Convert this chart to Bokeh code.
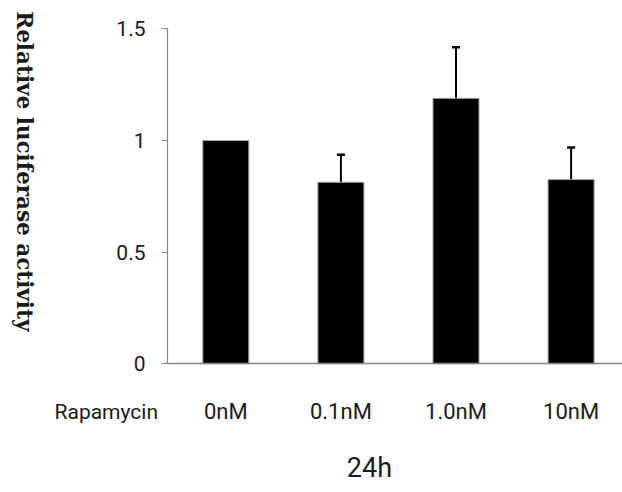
import math
from bokeh.plotting import figure
from bokeh.models import (ColumnDataSource, Whisker, TeeHead, FixedTicker,
                          CustomJSTickFormatter, Label, Range1d)
from bokeh.embed import file_html
from bokeh.resources import INLINE

categories = ["0nM", "0.1nM", "1.0nM", "10nM"]
values = [1.0, 0.813, 1.189, 0.825]
errors = [0.0, 0.123, 0.229, 0.144]
y_ticks = [0, 0.5, 1, 1.5]
y_tick_labels = ["0", "0.5", "1", "1.5"]
x_title = "24h"
row_title = "Rapamycin"
y_title = "Relative luciferase  activity"

xs = list(range(len(categories)))

# axis extents (data units); the frame covers the whole canvas so that
# the outside texts can be placed as annotations
x_lo, x_hi = -0.5065, 3.4466
y_lo, y_hi = 0, 1.5

p = figure(width=622, height=492, output_backend="svg", toolbar_location=None,
           x_range=Range1d(-1.9575, 3.4466), y_range=Range1d(-0.5764, 1.627),
           min_border_left=0, min_border_right=0, min_border_top=0,
           min_border_bottom=0)
p.grid.visible = False
p.outline_line_color = None
p.background_fill_color = "white"
p.border_fill_color = "white"

src = ColumnDataSource(dict(x=xs, top=values))
p.vbar(x="x", top="top", bottom=0, width=0.4, source=src, fill_color="black",
       line_color="#a6a6a6", line_width=1)

ex = [x for x, e in zip(xs, errors) if e > 0]
ev = [v for v, e in zip(values, errors) if e > 0]
eu = [v + e for v, e in zip(values, errors) if e > 0]
esrc = ColumnDataSource(dict(x=ex, lower=ev, upper=eu))
w = Whisker(source=esrc, base="x", lower="lower", upper="upper",
            line_color="black", line_width=2,
            upper_head=TeeHead(size=8, line_width=2.5, line_color="black"),
            lower_head=None)
p.add_layout(w)

font = "Roboto"

ya = p.yaxis[0]
ya.fixed_location = x_lo
ya.bounds = (y_lo, y_hi)
ya.ticker = FixedTicker(ticks=y_ticks)
ya.formatter = CustomJSTickFormatter(args=dict(labels=y_tick_labels),
                                     code="return labels[Math.round(tick*2)];")
ya.axis_line_color = "#868686"
ya.axis_line_width = 1.2
ya.major_tick_line_color = "#868686"
ya.major_tick_in = 0
ya.major_tick_out = 6
ya.minor_tick_line_color = None
ya.major_label_standoff = 16
ya.major_label_text_font = font
ya.major_label_text_font_size = "21px"
ya.major_label_text_color = "#1a1a1a"

xa = p.xaxis[0]
xa.fixed_location = y_lo
xa.bounds = (x_lo, x_hi)
xa.ticker = FixedTicker(ticks=xs)
xa.formatter = CustomJSTickFormatter(args=dict(labels=categories),
                                     code="return labels[Math.round(tick)];")
xa.axis_line_color = "#868686"
xa.axis_line_width = 1.5
xa.major_tick_line_color = None
xa.major_tick_in = 0
xa.major_tick_out = 0
xa.minor_tick_line_color = None
xa.major_label_standoff = 35
xa.major_label_text_font = font
xa.major_label_text_font_size = "22px"
xa.major_label_text_color = "#1a1a1a"

p.add_layout(Label(x=-1.488, y=-0.215, text=row_title, text_align="left",
                   text_baseline="alphabetic", text_font=font,
                   text_font_size="21px", text_color="#1a1a1a"))
p.add_layout(Label(x=1.248, y=-0.465, text=x_title, text_align="center",
                   text_baseline="middle", text_font=font,
                   text_font_size="27px", text_color="#1a1a1a"))
p.add_layout(Label(x=-1.749, y=0.845, text=y_title, text_align="center",
                   text_baseline="middle", angle=-math.pi / 2,
                   text_font="DejaVu Serif", text_font_style="bold",
                   text_font_size="21.5px", text_color="#1a1a1a"))

open("out.html", "w").write(file_html(p, INLINE))
